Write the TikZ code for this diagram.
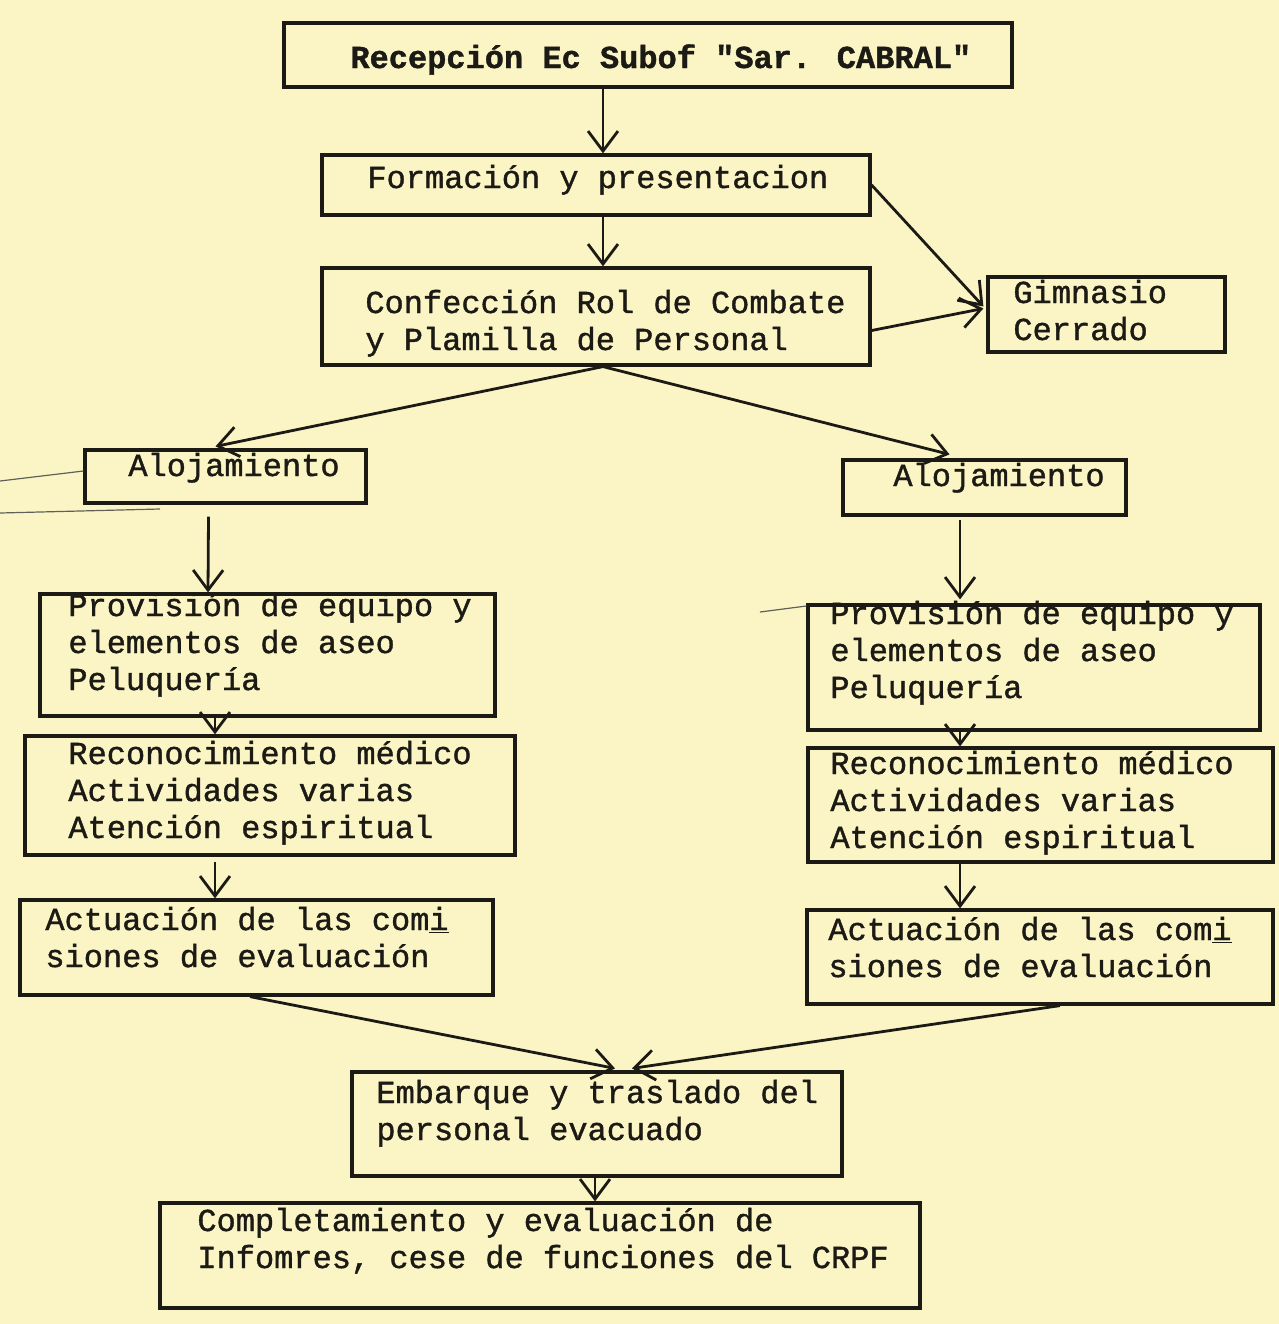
\documentclass[tikz,border=0pt]{standalone}
\usepackage{fontspec}
\newfontfamily\tw[FakeBold=1.2]{Liberation Mono}
\usetikzlibrary{arrows.meta,calc}
\definecolor{paper}{HTML}{FBF5C6}
\definecolor{ink}{HTML}{1C1A14}
\begin{document}
\begin{tikzpicture}[x=0.5pt,y=-0.5pt,
  box/.style={draw=ink, line width=1.6pt, inner sep=0pt},
  txt/.style={font=\tw\fontsize{16}{18.5}\selectfont, text=ink, align=left, anchor=base west, inner sep=0pt},
  arr/.style={draw=ink, line width=1.4pt, -{Straight Barb[length=10pt,width=15pt,line width=1.4pt]}},
  stray/.style={draw=ink!70, line width=0.6pt}]
\useasboundingbox (0,0) rectangle (1279,1324);
\fill[paper] (0,0) rectangle (1279,1324);

% boxes
\node[box, minimum width=364pt, minimum height=32pt] (b1) at (648,55) {};
\node[box, minimum width=274pt, minimum height=30pt] (b2) at (596,185) {};
\node[box, minimum width=274pt, minimum height=48.5pt] (b3) at (596,316.5) {};
\node[box, minimum width=118.5pt, minimum height=37.5pt] (gim) at (1106.5,314.5) {};
\node[box, minimum width=140.5pt, minimum height=26.5pt] (al) at (225.5,476.5) {};
\node[box, minimum width=141.5pt, minimum height=27.5pt] (ar) at (984.5,487.5) {};
\node[box, minimum width=227.5pt, minimum height=61pt] (pl) at (267.5,655) {};
\node[box, minimum width=226pt, minimum height=62.5pt] (pr) at (1034,667.5) {};
\node[box, minimum width=245pt, minimum height=59.5pt] (rl) at (270,795.5) {};
\node[box, minimum width=232.5pt, minimum height=57pt] (rr) at (1040.5,805) {};
\node[box, minimum width=236.5pt, minimum height=47.5pt] (cl) at (256.5,947.5) {};
\node[box, minimum width=233pt, minimum height=47pt] (cr) at (1040,957) {};
\node[box, minimum width=245pt, minimum height=52pt] (em) at (597,1124) {};
\node[box, minimum width=380pt, minimum height=52.5pt] (co) at (540,1255.5) {};

% texts (anchor = baseline of the last line)
\node[txt, font=\tw\bfseries\fontsize{16}{18.5}\selectfont] (t1) at (350,68) {Recepción Ec Subof "Sar. CABRAL"};
\node[txt] (t2) at (367,188) {Formación y presentacion};
\node[txt] (t3) at (365,350) {Confección Rol de Combate\\y Plamilla de Personal};
\node[txt] (tg) at (1013,340) {Gimnasio\\Cerrado};
\node[txt] (tal) at (128,476) {Alojamiento};
\node[txt] (tar) at (893,486) {Alojamiento};
\node[txt] (tpl) at (68,690) {Provisión de equipo y\\elementos de aseo\\Peluquería};
\node[txt] (tpr) at (830,698) {Provisión de equipo y\\elementos de aseo\\Peluquería};
\node[txt] (trl) at (68,838) {Reconocimiento médico\\Actividades varias\\Atención espiritual};
\node[txt] (trr) at (830,848) {Reconocimiento médico\\Actividades varias\\Atención espiritual};
\node[txt] (tcl) at (45,967) {Actuación de las com\underline{i}\\siones de evaluación};
\node[txt] (tcr) at (828,977) {Actuación de las com\underline{i}\\siones de evaluación};
\node[txt] (tem) at (376,1140) {Embarque y traslado del\\personal evacuado};
\node[txt] (tco) at (197,1268) {Completamiento y evaluación de\\Infomres, cese de funciones del CRPF};

% connectors
\draw[arr] ($(b1.south)+(-45,0)$) -- ($(b2.north)+(7,0)$);
\draw[arr] ($(b2.south)+(7,0)$) -- ($(b3.north)+(7,0)$);
\draw[arr] (b2.east) -- ($(gim.west)+(-3,-8)$);
\draw[arr] ($(b3.east)+(0,14)$) -- ($(gim.west)+(-3,-6)$);
\draw[arr] ($(b3.south)+(7,0)$) -- ($(al.north)+(-10,-2)$);
\draw[arr] ($(b3.south)+(7,0)$) -- ($(ar.north)+(-35,-4)$);
\draw[arr] ($(al.south)+(-17,12)$) -- ($(pl.north)+(-59.5,0)$);
\draw[arr] ($(ar.south)+(-24.5,3)$) -- ($(pr.north)+(-74,-4)$);
\draw[arr] ($(pl.south)+(-52.5,0)$) -- ($(rl.north)+(-55,0)$);
\draw[arr] ($(pr.south)+(-74,0)$) -- ($(rr.north)+(-80.5,0)$);
\draw[arr] ($(rl.south)+(-55,5)$) -- ($(cl.north)+(-41.5,0)$);
\draw[arr] ($(rr.south)+(-80.5,0)$) -- ($(cr.north)+(-80,0)$);
\draw[arr] ($(cl.south)+(-6.5,0)$) -- ($(em.north)+(18,-2)$);
\draw[arr] ($(cr.south)+(20,0)$) -- ($(em.north)+(35,-2)$);
\draw[arr] ($(em.south)+(-2,0)$) -- ($(co.north)+(55,0)$);

% stray marks of the sheet
\draw[stray] (0,481) -- (al.west |- 0,471);
\draw[stray] (0,513) -- (160,509);
\draw[stray] (760,612) -- (pr.west |- 0,606);
\end{tikzpicture}
\end{document}
